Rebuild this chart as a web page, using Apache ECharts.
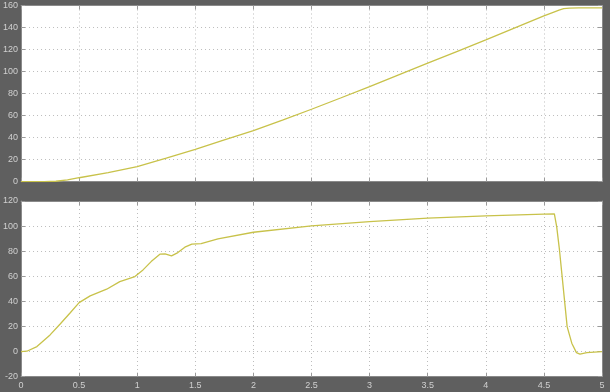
<!DOCTYPE html>
<html><head><meta charset="utf-8">
<script src="https://cdn.jsdelivr.net/npm/echarts@6/dist/echarts.min.js"></script>
<style>html,body{margin:0;padding:0;background:#5f5f5f}#c{width:610px;height:392px}</style>
</head><body><div id="c"></div>
<script>
var xTicks = [0, 0.5, 1, 1.5, 2, 2.5, 3, 3.5, 4, 4.5, 5];
var topTicks = [0, 20, 40, 60, 80, 100, 120, 140, 160];
var botTicks = [-20, 0, 20, 40, 60, 80, 100, 120];

var tTop = [0, 0.2, 0.3, 0.4, 0.5, 0.75, 1, 1.25, 1.5, 1.75, 2, 2.25, 2.5, 2.75, 3, 3.25, 3.5, 3.75, 4, 4.25, 4.5, 4.58, 4.63, 4.67, 4.72, 4.8, 5];
var vTop = [0, 0, 0.4, 1.6, 3.6, 8.2, 13.6, 21.3, 29.4, 37.9, 46.4, 56, 65.8, 76, 86.4, 97, 107.6, 118.2, 128.8, 139.7, 150.6, 153.8, 155.8, 157.1, 157.7, 157.8, 157.8];

var tBot = [0, 0.05, 0.137, 0.25, 0.337, 0.42, 0.5, 0.595, 0.737, 0.85, 0.98, 1.05, 1.12, 1.195, 1.24, 1.295, 1.35, 1.41, 1.47, 1.55, 1.695, 2.0, 2.5, 3.0, 3.5, 4.0, 4.5, 4.59, 4.61, 4.634, 4.654, 4.677, 4.70, 4.74, 4.78, 4.81, 4.87, 5];
var vBot = [0, 0.3, 4, 13.3, 22, 30.6, 39, 44.4, 49.7, 55.8, 59.8, 65.1, 71.7, 77.6, 77.8, 76.3, 78.9, 83.2, 85.6, 86, 89.8, 95.1, 100.2, 103.6, 106.3, 108.1, 109.5, 109.7, 99.6, 81, 62.5, 41.2, 19.9, 6.7, -0.8, -2, -0.8, 0];

function pairs(t, v) { return t.map(function (x, i) { return [x, v[i]]; }); }

var lab = { color: '#d0d0d0', fontSize: 9, fontFamily: 'Liberation Sans, Arial, sans-serif' };
var tickStyle = { show: true, inside: true, length: 4, lineStyle: { color: '#9a9a9a', width: 1 } };
var gridLine = { show: true, lineStyle: { color: '#bdbdbd', type: [1, 3], width: 1 } };
var axLine = { show: true, onZero: false, lineStyle: { color: '#8a8a8a', width: 1 } };

function xAx(gi, pos, showLabel, showSplit) {
  return {
    type: 'value', gridIndex: gi, position: pos, min: 0, max: 5, interval: 0.5,
    axisLine: axLine, axisTick: tickStyle, splitLine: showSplit ? gridLine : { show: false },
    axisLabel: showLabel ? Object.assign({ margin: 4, formatter: function (v) { return String(v); } }, lab) : { show: false }
  };
}
function yAx(gi, pos, min, max, showLabel, showSplit) {
  return {
    type: 'value', gridIndex: gi, position: pos, min: min, max: max, interval: 20,
    axisLine: axLine, axisTick: tickStyle, splitLine: showSplit ? gridLine : { show: false },
    axisLabel: showLabel ? Object.assign({ margin: 3, showMinLabel: true, showMaxLabel: true }, lab) : { show: false }
  };
}

var chart = echarts.init(document.getElementById('c'));
chart.setOption({
  backgroundColor: '#5f5f5f',
  animation: false,
  grid: [
    { left: 19, top: 5.5, width: 583, height: 176.2, backgroundColor: '#ffffff', show: true, borderWidth: 0 },
    { left: 19, top: 201, width: 583, height: 175.7, backgroundColor: '#ffffff', show: true, borderWidth: 0 }
  ],
  xAxis: [
    xAx(0, 'bottom', false, true),
    xAx(0, 'top', false, false),
    xAx(1, 'bottom', true, true),
    xAx(1, 'top', false, false)
  ],
  yAxis: [
    yAx(0, 'left', 0, 160, true, true),
    yAx(0, 'right', 0, 160, false, false),
    yAx(1, 'left', -20, 120, true, true),
    yAx(1, 'right', -20, 120, false, false)
  ],
  series: [
    { type: 'line', xAxisIndex: 0, yAxisIndex: 0, data: pairs(tTop, vTop), showSymbol: false, smooth: false,
      lineStyle: { color: '#c8c24a', width: 1.3 } },
    { type: 'line', xAxisIndex: 2, yAxisIndex: 2, data: pairs(tBot, vBot), showSymbol: false, smooth: false,
      lineStyle: { color: '#c8c24a', width: 1.3 } }
  ]
});
</script></body></html>
